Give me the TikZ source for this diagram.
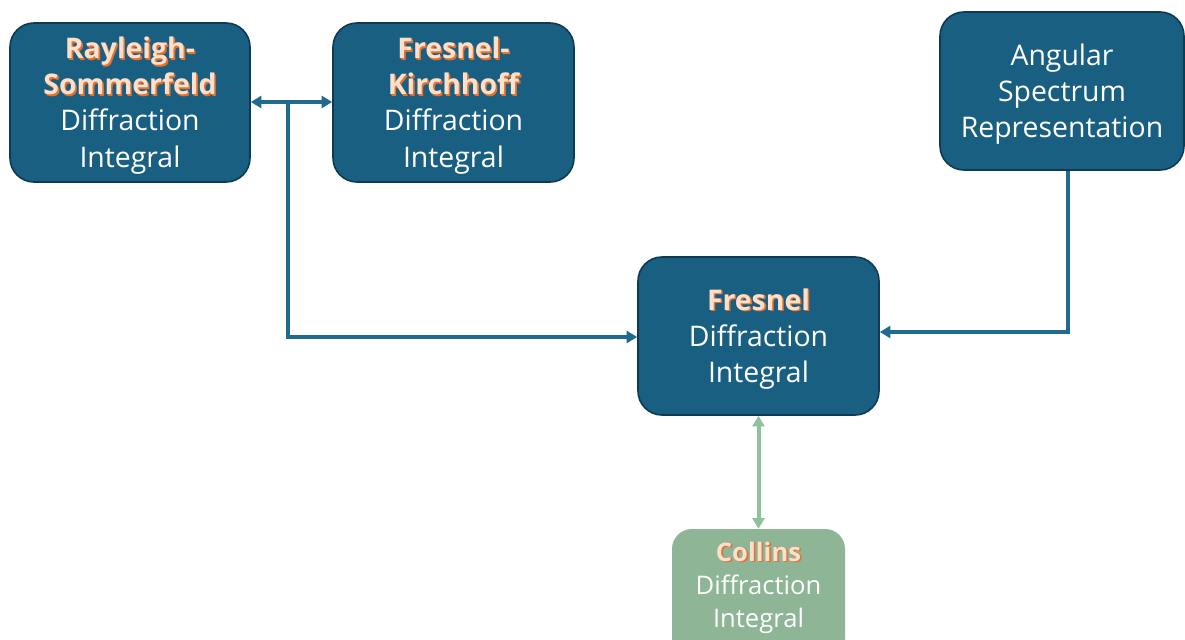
\documentclass[tikz,border=0pt]{standalone}
\usepackage{fontspec}
\setmainfont{Open Sans}
\usetikzlibrary{arrows.meta}
\definecolor{boxblue}{HTML}{195F82}
\definecolor{boxedge}{HTML}{0E3B52}
\definecolor{lineblue}{HTML}{1F6A8E}
\definecolor{boxgreen}{HTML}{8DB596}
\definecolor{linegreen}{HTML}{8EC29A}
\definecolor{ltorange}{HTML}{FBE0CC}
\definecolor{dkorange}{HTML}{E8702F}
\newcommand\hlt[1]{\leavevmode\rlap{\hspace{1.2pt}\raisebox{-1.2pt}{\color{dkorange}\bfseries #1}}\rlap{\hspace{0.6pt}\raisebox{-0.6pt}{\color{dkorange}\bfseries #1}}{\color{ltorange}\bfseries #1}}
\tikzset{
  bluebox/.style={draw=boxedge, line width=1.2pt, fill=boxblue, rounded corners=18pt, text=white, align=center, font=\fontsize{21.3}{27.2}\selectfont, inner sep=0pt},
  greenbox/.style={draw=none, fill=boxgreen, rounded corners=15pt, text=white, align=center, font=\fontsize{19.2}{24.8}\selectfont, inner sep=0pt},
  conn/.style={draw=lineblue, line width=3pt, -{Triangle[length=8pt,width=9pt]}},
  gconn/.style={draw=linegreen, line width=3pt, {Triangle[length=8pt,width=9pt]}-{Triangle[length=8pt,width=9pt]}}
}
\begin{document}
\begin{tikzpicture}[x=0.75pt,y=-0.75pt]
\useasboundingbox (0,0) rectangle (1185,639);
\clip (0,0) rectangle (1185,639);
\fill[white] (0,0) rectangle (1185,639);
\node[bluebox, minimum width=240*0.75pt, minimum height=159*0.75pt] (rs) at (130,102.5) {\raisebox{-7.5pt}[0pt][0pt]{\begin{tabular}{@{}c@{}}\hlt{Rayleigh-}\\\hlt{Sommerfeld}\\Diffraction\\Integral\end{tabular}}};
\node[bluebox, minimum width=241*0.75pt, minimum height=159*0.75pt] (fk) at (453.5,102.5) {\raisebox{-7.5pt}[0pt][0pt]{\begin{tabular}{@{}c@{}}\hlt{Fresnel-}\\\hlt{Kirchhoff}\\Diffraction\\Integral\end{tabular}}};
\node[bluebox, minimum width=244*0.75pt, minimum height=158*0.75pt] (as) at (1062,91) {\raisebox{-7.5pt}[0pt][0pt]{\begin{tabular}{@{}c@{}}Angular\\Spectrum\\Representation\end{tabular}}};
\node[bluebox, minimum width=241*0.75pt, minimum height=158*0.75pt] (fr) at (758.5,336) {\raisebox{-7.5pt}[0pt][0pt]{\begin{tabular}{@{}c@{}}\hlt{Fresnel}\\Diffraction\\Integral\end{tabular}}};
\node[greenbox, minimum width=173*0.75pt, minimum height=130*0.75pt] (co) at (758.5,594) {\raisebox{-0.3pt}[0pt][0pt]{\begin{tabular}{@{}c@{}}\hlt{Collins}\\Diffraction\\Integral\end{tabular}}};
\coordinate (j) at (288,102);
\coordinate (c1) at (288,337);
\coordinate (c2) at (1068,332);
\draw[conn] (j) -- (rs.east |- j);
\draw[conn] (j) -- (fk.west |- j);
\draw[conn] (j) -- (c1) -- (fr.west |- c1);
\draw[conn] (as.south -| c2) -- (c2) -- (fr.east |- c2);
\draw[gconn] (fr.south) -- (co.north);
\end{tikzpicture}
\end{document}
